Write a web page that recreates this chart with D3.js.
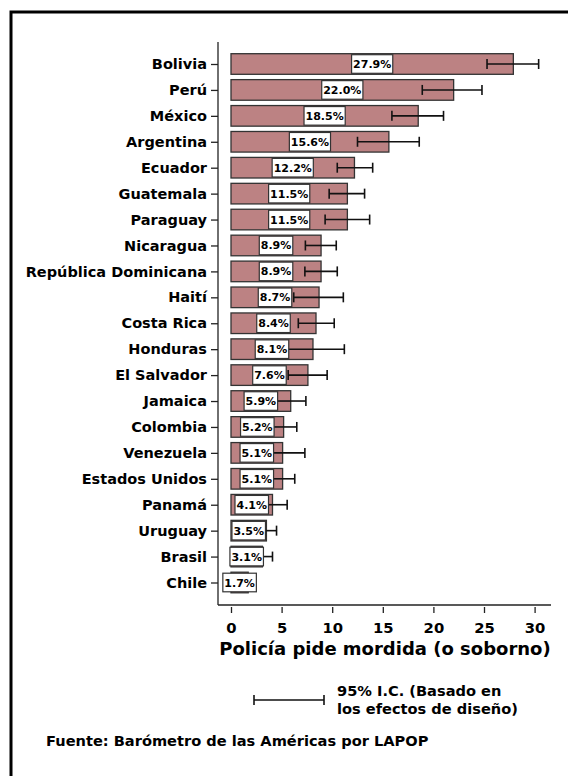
<html>
<head>
<script src="https://d3js.org/d3.v7.min.js"></script>
<style>
body { margin: 0; background: #fff; }
svg text { font-family: 'DejaVu Sans', Verdana, sans-serif; font-weight: bold; fill: #000; }
.tick line { stroke: #222; stroke-width: 1.3; }
</style>
</head>
<body>
<div id="plot"></div>
<script>

var width = 568;
var height = 776;

// Porcentaje que reporta que la policía pidió una mordida
var countries = ["Bolivia", "Perú", "México", "Argentina", "Ecuador", "Guatemala", "Paraguay",
  "Nicaragua", "República Dominicana", "Haití", "Costa Rica", "Honduras", "El Salvador",
  "Jamaica", "Colombia", "Venezuela", "Estados Unidos", "Panamá", "Uruguay", "Brasil", "Chile"];
var values = [27.9, 22.0, 18.5, 15.6, 12.2, 11.5, 11.5, 8.9, 8.9, 8.7, 8.4, 8.1, 7.6,
  5.9, 5.2, 5.1, 5.1, 4.1, 3.5, 3.1, 1.7];
var lower = [25.3, 18.9, 15.9, 12.5, 10.5, 9.7, 9.3, 7.35, 7.3, 6.2, 6.65, 5.0, 5.65,
  4.4, 3.9, 2.9, 3.9, 2.65, 2.5, 2.1, 1.0];
var upper = [30.4, 24.8, 21.0, 18.6, 14.0, 13.2, 13.7, 10.4, 10.5, 11.1, 10.2, 11.2, 9.5,
  7.4, 6.5, 7.3, 6.3, 5.55, 4.5, 4.1, 2.4];
var xTicks = [0, 5, 10, 15, 20, 25, 30];

var svg = d3.select("#plot").append("svg")
  .attr("width", width).attr("height", height);

// marco
svg.append("path")
  .attr("d", "M11," + (height + 5) + " V12 H" + (width + 5))
  .style("fill", "none").style("stroke", "#000").style("stroke-width", 3);

var xScale = d3.scaleLinear().domain([0, 30]).range([231, 534.6]);
var yScale = d3.scalePoint().domain(countries).range([64, 582.5]);
var barH = 20.6;

var axisX0 = 218, axisY0 = 605;

// barras
svg.selectAll("rect.bar").data(countries).enter().append("rect")
  .attr("class", "bar")
  .attr("x", xScale(0))
  .attr("y", d => yScale(d) - barH / 2)
  .attr("width", (d, i) => xScale(values[i]) - xScale(0))
  .attr("height", barH)
  .style("fill", "#bc8283")
  .style("stroke", "#333")
  .style("stroke-width", 1.3);

// intervalos de confianza
var eb = svg.append("g").style("stroke", "#111").style("stroke-width", 1.6);
countries.forEach(function (c, i) {
  var y = yScale(c);
  eb.append("line").attr("x1", xScale(lower[i])).attr("x2", xScale(upper[i]))
    .attr("y1", y).attr("y2", y);
  [lower[i], upper[i]].forEach(function (v) {
    eb.append("line").attr("x1", xScale(v)).attr("x2", xScale(v))
      .attr("y1", y - 5).attr("y2", y + 5);
  });
});

// etiquetas de valor
countries.forEach(function (c, i) {
  var cx = (xScale(0) + xScale(values[i])) / 2;
  var y = yScale(c);
  var t = svg.append("text").attr("x", cx).attr("y", y + 4)
    .attr("text-anchor", "middle").style("font-size", "11px")
    .text(values[i].toFixed(1) + "%");
  var w = t.node().getComputedTextLength() + 3;
  svg.insert("rect", function () { return t.node(); })
    .attr("x", cx - w / 2).attr("y", y - barH / 2 + 1)
    .attr("width", w).attr("height", barH - 2)
    .style("fill", "#fff").style("stroke", "#333").style("stroke-width", 1.2);
});

// eje y
var yAxis = d3.axisLeft(yScale).tickSize(7).tickSizeOuter(0).tickPadding(4);
var gy = svg.append("g").attr("transform", "translate(" + axisX0 + ",0)").call(yAxis);
gy.select(".domain").remove();
gy.selectAll("text").style("font-size", "14.5px");
svg.append("line").attr("x1", axisX0).attr("x2", axisX0).attr("y1", 42).attr("y2", axisY0)
  .style("stroke", "#222").style("stroke-width", 1.3);

// eje x
var xAxis = d3.axisBottom(xScale).tickValues(xTicks).tickSize(6).tickPadding(9);
var gx = svg.append("g").attr("transform", "translate(0," + (axisY0 + 2) + ")").call(xAxis);
gx.select(".domain").remove();
gx.selectAll("text").style("font-size", "14.8px");
svg.append("line").attr("x1", axisX0).attr("x2", 551).attr("y1", axisY0).attr("y2", axisY0)
  .style("stroke", "#222").style("stroke-width", 1.3);

svg.append("text").attr("x", (axisX0 + 551) / 2 + 0.5).attr("y", 655)
  .attr("text-anchor", "middle").style("font-size", "18px")
  .text("Policía pide mordida (o soborno)");

// leyenda
var lg = svg.append("g").style("stroke", "#111").style("stroke-width", 1.6);
lg.append("line").attr("x1", 254).attr("x2", 324).attr("y1", 700).attr("y2", 700);
lg.append("line").attr("x1", 254).attr("x2", 254).attr("y1", 695).attr("y2", 705);
lg.append("line").attr("x1", 324).attr("x2", 324).attr("y1", 695).attr("y2", 705);
svg.append("text").attr("x", 337).attr("y", 696).style("font-size", "14.6px")
  .text("95%  I.C. (Basado en");
svg.append("text").attr("x", 337).attr("y", 714).style("font-size", "14.6px")
  .text("los efectos de diseño)");

svg.append("text").attr("x", 46).attr("y", 746).style("font-size", "14.6px")
  .text("Fuente: Barómetro de las Américas por LAPOP");

</script>
</body>
</html>
